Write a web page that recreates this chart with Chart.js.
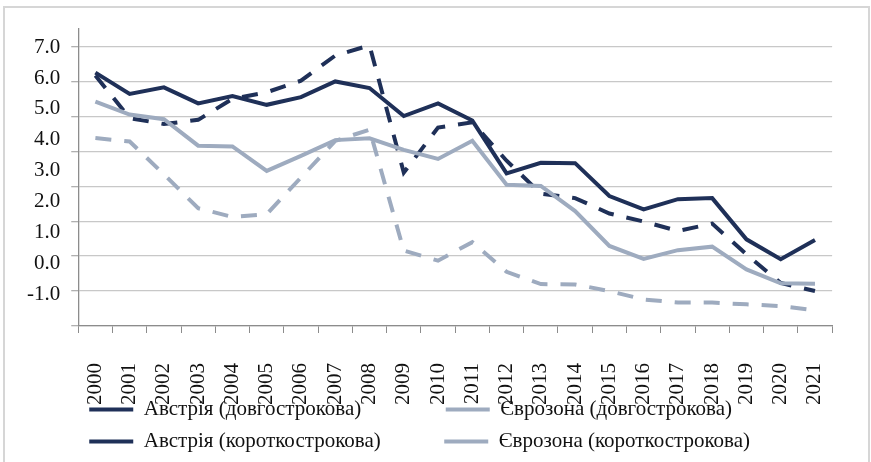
<!DOCTYPE html>
<html lang="uk">
<head>
<meta charset="utf-8">
<title>Ставки: Австрія та Єврозона</title>
<script src="https://cdn.jsdelivr.net/npm/chart.js@4.4.1/dist/chart.umd.min.js"></script>
<style>
  body { margin: 0; background: #fff; }
  #frame {
    position: absolute; left: 3px; top: 6px;
    width: 863px; height: 470px;
    border: 2px solid #d6d6d6;
  }
  #wrap { position: absolute; left: 0; top: 0; width: 871px; height: 462px; }
</style>
</head>
<body>
<div id="frame"></div>
<div id="wrap"><canvas id="myChart" width="871" height="462"></canvas></div>
<script>
// data
const years = ['2000','2001','2002','2003','2004','2005','2006','2007','2008','2009','2010',
               '2011','2012','2013','2014','2015','2016','2017','2018','2019','2020','2021'];
const austriaLong  = [6.25, 5.64, 5.83, 5.37, 5.58, 5.33, 5.55, 6.00, 5.81, 5.01, 5.37,
                      4.88, 3.37, 3.67, 3.66, 2.72, 2.34, 2.63, 2.66, 1.48, 0.91, 1.46];
const euroLong     = [5.42, 5.05, 4.92, 4.16, 4.14, 3.44, 3.87, 4.32, 4.37, 4.04, 3.78,
                      4.30, 3.04, 3.01, 2.29, 1.29, 0.92, 1.17, 1.27, 0.62, 0.22, 0.21];
const austriaShort = [6.17, 4.95, 4.78, 4.90, 5.50, 5.69, 6.02, 6.74, 7.03, 3.39, 4.68,
                      4.83, 3.73, 2.79, 2.66, 2.22, 1.99, 1.72, 1.93, 1.05, 0.23, 0.00];
const euroShort    = [4.38, 4.28, 3.34, 2.37, 2.12, 2.20, 3.25, 4.30, 4.62, 1.16, 0.87,
                      1.40, 0.55, 0.20, 0.19, 0.00, -0.24, -0.33, -0.33, -0.38, -0.43, -0.55];
const seriesNames = ['Австрія (довгострокова)', 'Єврозона (довгострокова)',
                     'Австрія (короткострокова)', 'Єврозона (короткострокова)'];
const yLabels = [7, 6, 5, 4, 3, 2, 1, 0, -1];

const dark = '#1f3058';
const light = '#9eabbf';
const dash = [16, 13];
const serif = 'Liberation Serif, Times New Roman, serif';

function line(label, data, color, dashed) {
  return {
    label: label,
    data: data,
    borderColor: color,
    backgroundColor: color,
    borderWidth: 4,
    borderDash: dashed ? dash : [],
    borderCapStyle: 'butt',
    pointRadius: 0,
    tension: 0,
    fill: false
  };
}

const data = {
  labels: years,
  datasets: [
    line(seriesNames[0], austriaLong, dark, false),
    line(seriesNames[1], euroLong, light, false),
    line(seriesNames[2], austriaShort, dark, true),
    line(seriesNames[3], euroShort, light, true)
  ]
};

// first column of the legend gets padded so the second column lines up
function legendLabels(chart) {
  const items = Chart.defaults.plugins.legend.labels.generateLabels(chart);
  const ctx = chart.ctx;
  ctx.save();
  ctx.font = '21px ' + serif;
  items.forEach((it, i) => {
    if (i % 2 === 0) {
      while (ctx.measureText(it.text).width < 288) it.text += ' ';
    }
  });
  ctx.restore();
  return items;
}

// year labels hang over the legend, like in the original
const unclipYears = {
  id: 'unclipYears',
  afterLayout(chart) {
    chart.scales.x.bottom = chart.height;
  }
};

const config = {
  type: 'line',
  data: data,
  plugins: [unclipYears],
  options: {
    responsive: false,
    animation: false,
    layout: { padding: { left: 16, right: 36, top: 29, bottom: 0 } },
    scales: {
      x: {
        offset: true,
        grid: { display: true, drawOnChartArea: false, offset: true, tickLength: 7, tickColor: '#8c8c8c' },
        border: { color: '#8c8c8c', width: 1.3 },
        ticks: {
          minRotation: 90, maxRotation: 90, autoSkip: false, padding: 30,
          color: '#111', font: { family: serif, size: 21 }
        },
        afterFit: (scale) => { scale.height = 62; }
      },
      y: {
        min: -1, max: 7.5,
        grid: { color: '#c8c8c8', lineWidth: 1.3, tickLength: 7, tickColor: '#b0b0b0' },
        border: { color: '#8c8c8c', width: 1.3 },
        ticks: { display: false, stepSize: 1, includeBounds: false }
      },
      yLab: {
        position: 'left',
        weight: 1,
        min: -2.03, max: 7.59,
        grid: { display: false, drawTicks: false },
        border: { display: false },
        ticks: {
          stepSize: 1, includeBounds: false, padding: 11,
          color: '#111', font: { family: serif, size: 21 },
          callback: (v) => yLabels.includes(v) ? v.toFixed(1) : ''
        }
      }
    },
    plugins: {
      legend: {
        position: 'bottom',
        align: 'start',
        fullSize: false,
        labels: {
          usePointStyle: true,
          pointStyle: 'line',
          pointStyleWidth: 44,
          padding: 11,
          color: '#111',
          font: { family: serif, size: 21 },
          generateLabels: legendLabels
        }
      },
      tooltip: { enabled: false }
    }
  }
};

const myChart = new Chart(document.getElementById('myChart'), config);
</script>
</body>
</html>
